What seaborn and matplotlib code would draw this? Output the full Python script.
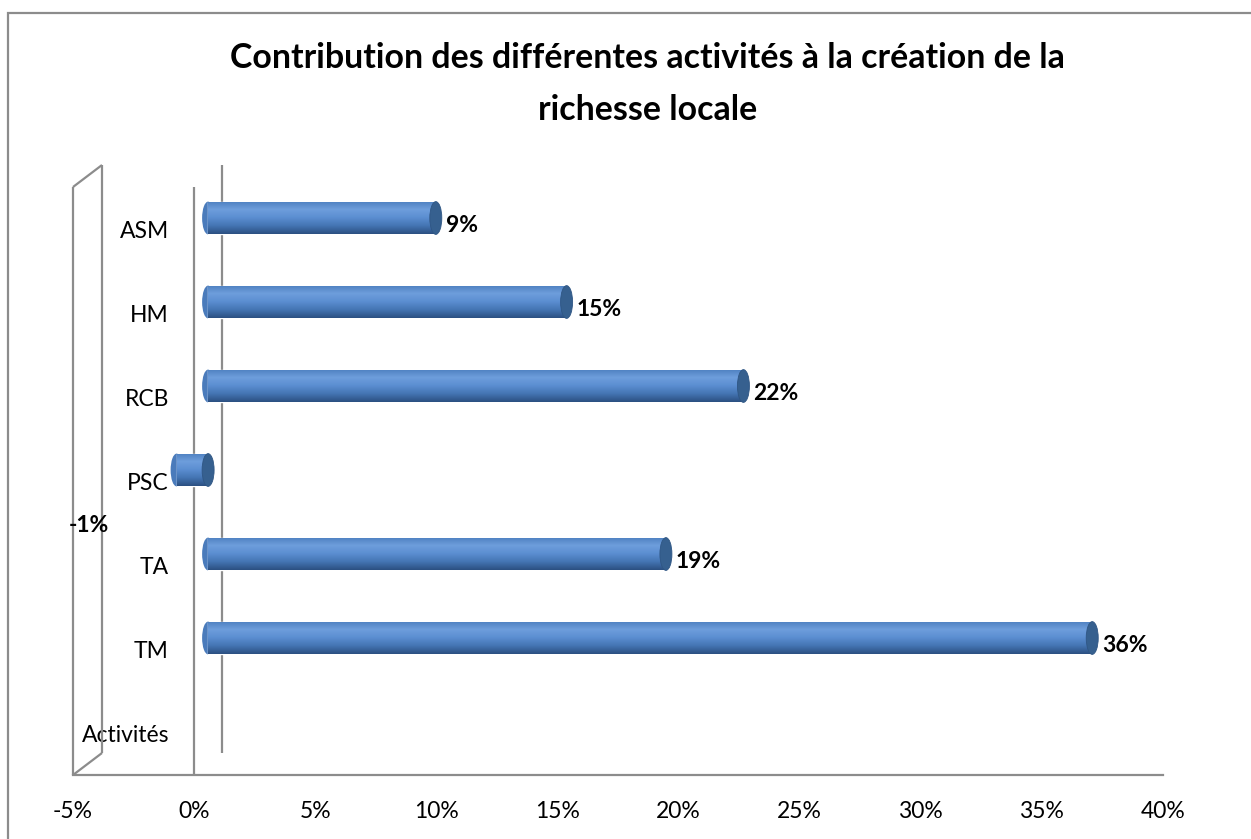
import pandas as pd
import numpy as np
import matplotlib
matplotlib.use("Agg")
import matplotlib.pyplot as plt
import matplotlib.transforms as mtransforms
from matplotlib.patches import Ellipse, Rectangle
from matplotlib.ticker import PercentFormatter
from matplotlib.colors import LinearSegmentedColormap
import seaborn as sns

# Données
activites = ['ASM', 'HM', 'RCB', 'PSC', 'TA', 'TM']
contribution = [0.094, 0.148, 0.221, -0.013, 0.189, 0.365]
etiquettes = ['9%', '15%', '22%', '-1%', '19%', '36%']
ordre_axe = activites + ['Activités']
graduations = [-0.05, 0.0, 0.05, 0.10, 0.15, 0.20, 0.25, 0.30, 0.35, 0.40]

titre = 'Contribution des différentes activités à la création de la\nrichesse locale'

sns.set_theme(style='white')
plt.rcParams['font.family'] = ['Lato', 'DejaVu Sans']
plt.rcParams['axes.unicode_minus'] = False

DPI = 100
W, H = 1251, 839
gris = '#8C8C8C'

fig = plt.figure(figsize=(W / DPI, H / DPI), dpi=DPI)
# zone du tracé (plan avant) en pixels : x 73..1163, y 187..775
ax = fig.add_axes([73 / W, (H - 775) / H, 1090 / W, 588 / H])

df = pd.DataFrame({'activite': activites, 'part': contribution})
sns.barplot(data=df, x='part', y='activite', order=ordre_axe, orient='h',
            color='#4F81BD', width=0.39, ax=ax, zorder=3, errorbar=None)

ax.set_xlim(-0.05, 0.40)
ax.set_ylim(len(ordre_axe) - 0.5, -0.5)

# décalage 3D : barres au milieu de la profondeur, mur du fond derrière
milieu = mtransforms.ScaledTranslation(14 / DPI, 11 / DPI, fig.dpi_scale_trans)
fond = mtransforms.ScaledTranslation(28 / DPI, 22 / DPI, fig.dpi_scale_trans)
t_barres = ax.transData + milieu

px_par_unite = 1090 / 0.45
larg_cap = 12 / px_par_unite

degrade = LinearSegmentedColormap.from_list(
    'cyl', ['#4E80C0', '#6E9EDC', '#5B8ED1', '#4475B3', '#2C5082'])
grad = np.linspace(0, 1, 64).reshape(-1, 1)

for p in list(ax.patches):
    p.set_transform(t_barres)
    x0, y0 = p.get_x(), p.get_y()
    w, h = p.get_width(), p.get_height()
    xl, xr = min(x0, x0 + w), max(x0, x0 + w)
    yc = y0 + h / 2
    # bout arrondi à gauche
    bout = Ellipse((xl, yc), larg_cap, h, transform=t_barres,
                   facecolor='#4A7BBB', edgecolor='none', zorder=2.5)
    ax.add_patch(bout)
    im = ax.imshow(grad, cmap=degrade, aspect='auto', origin='upper',
                   extent=(xl, xr, y0 + h, y0), zorder=3.1,
                   interpolation='bilinear')
    im.set_transform(t_barres)
    im.set_clip_path(p)
    # couvercle du cylindre à droite
    cap = Ellipse((xr, yc), larg_cap, h, transform=t_barres,
                  facecolor='#36608F', edgecolor='#2F5684', lw=0.6, zorder=3.5)
    ax.add_patch(cap)

ax.set_xlim(-0.05, 0.40)
ax.set_ylim(len(ordre_axe) - 0.5, -0.5)

# étiquettes de données
for i, (v, lab) in enumerate(zip(contribution, etiquettes)):
    if v >= 0:
        ax.annotate(lab, xy=(v, i), xycoords=t_barres, xytext=(10, -7),
                    textcoords='offset pixels', ha='left', va='center',
                    fontsize=16.5, fontweight='bold', color='black', zorder=5)
    else:
        ax.annotate(lab, xy=(v, i), xycoords=t_barres, xytext=(-88, -55),
                    textcoords='offset pixels', ha='center', va='center',
                    fontsize=16.5, fontweight='bold', color='black', zorder=5)

# parois et lignes de l'axe
for s in ['top', 'right', 'left']:
    ax.spines[s].set_visible(False)
ax.spines['bottom'].set_color(gris)
ax.spines['bottom'].set_linewidth(1.6)

dx, dy = 29 / 1090, 22 / 588
kw = dict(color=gris, lw=1.6, solid_capstyle='butt', clip_on=False, zorder=1)
ax.plot([0, 0], [0, 1], transform=ax.transAxes, **kw)
ax.plot([dx, dx], [dy, 1 + dy], transform=ax.transAxes, **kw)
ax.plot([0, dx], [1, 1 + dy], transform=ax.transAxes, **kw)
ax.plot([0, dx], [0, dy], transform=ax.transAxes, **kw)
mix = mtransforms.blended_transform_factory(ax.transData, ax.transAxes)
ax.plot([0, 0], [0, 1], transform=mix, **kw)
ax.plot([0, 0], [0, 1], transform=mix + fond, **kw)

ax.set_xticks(graduations)
ax.xaxis.set_major_formatter(PercentFormatter(1.0, decimals=0))
ax.tick_params(axis='x', length=0, pad=18.5, labelsize=16.5, labelcolor='black')
ax.tick_params(axis='y', length=0, pad=-69.1, labelsize=16.5, labelcolor='black')
ax.set_xlabel('')
ax.set_ylabel('')
ax.grid(False)

fig.text(0.5175, (H - 84) / H, titre, ha='center', va='center', color='black',
         fontsize=24.4, fontweight='bold', linespacing=1.8)

# bordure du graphique (gauche et haut visibles)
fig.patches.append(Rectangle((8 / W, -0.1), 1.2, (H - 13) / H + 0.1,
                             transform=fig.transFigure, fill=False,
                             edgecolor=gris, lw=1.6))

fig.savefig('out.png', dpi=DPI, facecolor='white')
